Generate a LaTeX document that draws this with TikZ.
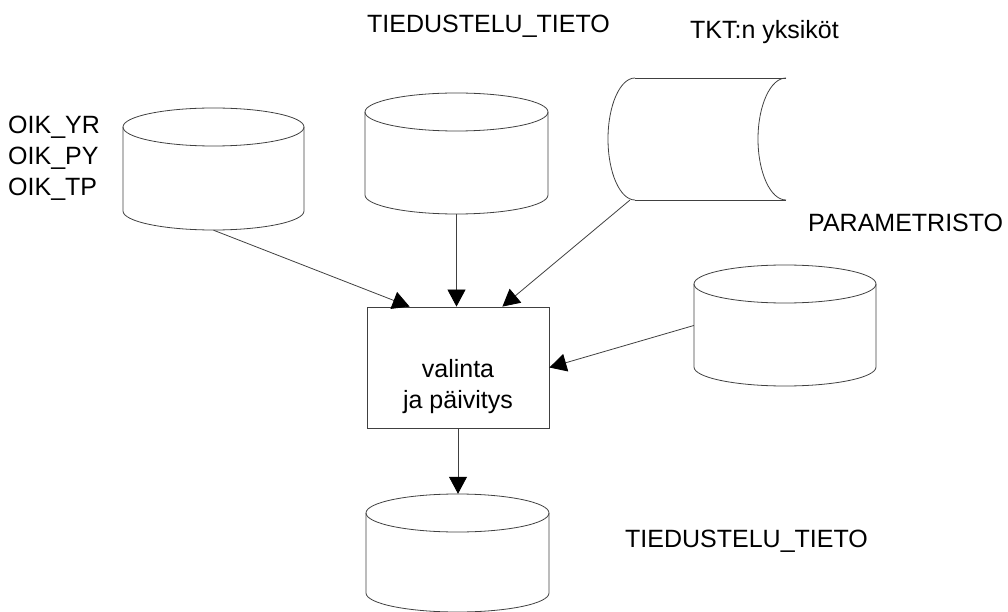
\documentclass[tikz,border=0pt]{standalone}
\usepackage{fontspec}
\setmainfont{Liberation Sans}
\usetikzlibrary{arrows.meta,calc}
\newcommand\dbcyl[5]{% name, cx, topY, botY, rx
  \draw[shp] (#2-#5,#3) -- (#2-#5,#4) arc[start angle=180,end angle=360,x radius=#5,y radius=19] -- (#2+#5,#3);
  \draw[shp] (#2,#3) ellipse[x radius=#5, y radius=19];
  \node[inner sep=0pt, minimum width={2*#5*1pt}, minimum height={(#3-#4+38)*1pt}] (#1) at (#2,{(#3+#4)/2}) {};
}
\begin{document}
\begin{tikzpicture}[x=1pt,y=1pt,
  shp/.style={draw=black!75, line width=0.8pt},
  conn/.style={draw=black!75, line width=0.8pt, -{Triangle[length=17pt,width=18pt,color=black]}},
  lbl/.style={font=\fontsize{25}{31}\selectfont, inner sep=0pt, anchor=base west}]
\useasboundingbox (0,0) rectangle (1008,611);
% cylinders
\dbcyl{c1}{213.5}{484}{400}{90.5}
\dbcyl{c2}{456.5}{499}{416}{91.5}
\dbcyl{c4}{785}{327}{244}{91}
\dbcyl{c5}{457.5}{98}{18}{91.5}
% drum
\draw[shp] (635,533) -- (786,533);
\draw[shp] (635,411) -- (786,411);
\draw[shp] (635,533) arc[start angle=90,end angle=270,x radius=27,y radius=61];
\draw[shp] (786,533) arc[start angle=90,end angle=270,x radius=28,y radius=61];
\node[inner sep=0pt, minimum width=180pt, minimum height=122pt] (drum) at (698,472) {};
% process box
\node[shp, minimum width=182pt, minimum height=121pt, inner sep=0pt] (box) at (458,243.5) {};
\node[lbl, anchor=base] (boxl1) at (458,234) {valinta};
\node[lbl, anchor=base] (boxl2) at (458,203) {ja päivitys};
% connectors
\draw[conn] (c1.south) -- ([xshift=43pt]box.north west);
\draw[conn] (c2.south) -- (c2.south |- box.north);
\draw[conn] ([xshift=22pt]drum.south west) -- ([xshift=-47pt]box.north east);
\draw[conn] (c4.west) -- (box.east);
\draw[conn] (box.south) -- (box.south |- c5.north);
% labels
\node[lbl] (t1) at (367,578) {TIEDUSTELU\_TIETO};
\node[lbl] (t2) at (690,572) {TKT:n yksiköt};
\node[lbl] (oik1) at (8,477) {OIK\_YR};
\node[lbl] (oik2) at (8,446) {OIK\_PY};
\node[lbl] (oik3) at (8,415) {OIK\_TP};
\node[lbl] (t3) at (808,379) {PARAMETRISTO};
\node[lbl] (t4) at (625,64) {TIEDUSTELU\_TIETO};
\end{tikzpicture}
\end{document}
